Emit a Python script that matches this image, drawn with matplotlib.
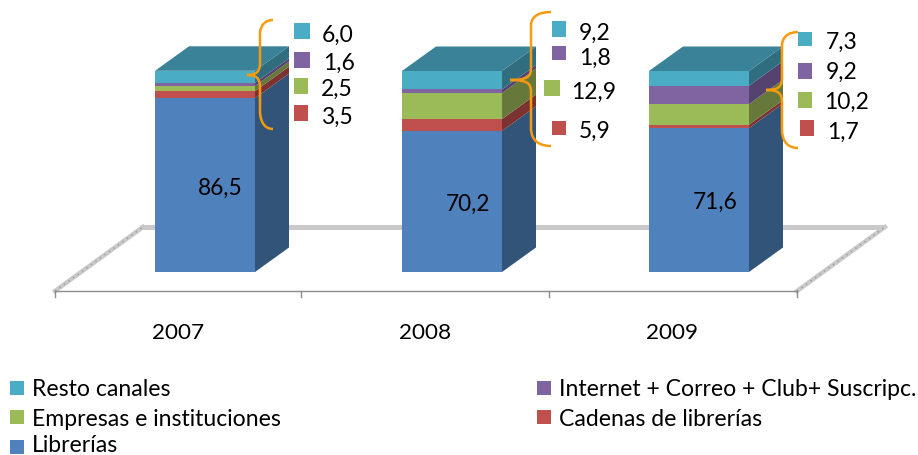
import matplotlib
matplotlib.use("Agg")
import matplotlib.pyplot as plt
from matplotlib.patches import Polygon, Rectangle, PathPatch
from matplotlib.path import Path
from matplotlib.transforms import Affine2D

plt.rcParams['font.family'] = ['Lato', 'DejaVu Sans']

years = ['2007', '2008', '2009']
series_names = ['Librerías', 'Cadenas de librerías', 'Empresas e instituciones',
                'Internet + Correo + Club+ Suscripc.', 'Resto canales']
librerias = [86.5, 70.2, 71.6]
cadenas = [3.5, 5.9, 1.7]
empresas = [2.5, 12.9, 10.2]
internet = [1.6, 1.8, 9.2]
resto = [6.0, 9.2, 7.3]
series = [librerias, cadenas, empresas, internet, resto]
front_colors = ['#4f81bd', '#c0504d', '#9bbb59', '#8064a2', '#4bacc6']
side_colors = ['#325479', '#7c3230', '#66793a', '#54426f', '#2f6d7f']
top_color = '#3a8297'

W, H = 918, 455
fig = plt.figure(figsize=(W / 100, H / 100), dpi=100)
ax = fig.add_axes([0, 0, 1, 1])
ax.axis('off')
UX, UY = 247.0, 2.01
ax.set_xlim(-205 / UX, (W - 205) / UX)
ax.set_ylim(-(H - 272) / UY, 272 / UY)
px = Affine2D().scale(1, -1).translate(0, H)

def fmt(v):
    return f'{v:.1f}'.replace('.', ',')

# floor
grey = '#c9c9c9'
ax.plot([140, 885], [227, 227], color=grey, lw=3.6, transform=px, solid_capstyle='butt', zorder=1)
for x0 in (55, 797):
    ax.plot([x0, x0 + 88], [291, 227], color=grey, lw=3.2, transform=px, zorder=1)
    ax.plot([x0, x0 + 88], [291, 227], color='#9a9a9a', lw=1, ls=(0, (1, 3)), transform=px, zorder=1)
ax.plot([55, 797], [291, 291], color='#8c8c8c', lw=1, transform=px, zorder=2)
for x0 in (55, 301, 549, 797):
    ax.plot([x0, x0], [291, 297], color='#8c8c8c', lw=1, transform=px, zorder=2)

# bars
bw = 100 / UX
dx, dy = 34 / UX, 24.5 / UY
for i in range(len(years)):
    base = 0.0
    xl, xr = i - bw / 2, i + bw / 2
    for s, vals in enumerate(series):
        v = vals[i]
        ax.bar(i, v, width=bw, bottom=base, color=front_colors[s], linewidth=0, zorder=3)
        ax.add_patch(Polygon([(xr, base), (xr + dx, base + dy), (xr + dx, base + v + dy), (xr, base + v)],
                             closed=True, fc=side_colors[s], ec='none', zorder=3))
        base += v
    ax.add_patch(Polygon([(xl, base), (xl + dx, base + dy), (xr + dx, base + dy), (xr, base)],
                         closed=True, fc=top_color, ec='none', zorder=3))

# value labels on the main segment
lib_pos = [(220, 188), (468, 204), (715, 202)]
for v, (x, y) in zip(librerias, lib_pos):
    ax.text(x, y, fmt(v), transform=px, ha='center', va='center', fontsize=16.3, color='black', zorder=6)

# year labels
for t, x in zip(years, (178, 425, 672)):
    ax.text(x, 333, t, transform=px, ha='center', va='center', fontsize=16.2, color='black')

# braces
def brace(xe, xs, xt, y0, ym, y1):
    r = 12
    verts = [(xe, y0), (xs + 2, y0), (xs, y0 + r), (xs, y0 + r + 6),
             (xs, ym - 12), (xs, ym - 12), (xs, ym - 12),
             (xs, ym - 3), (xs - 4, ym), (xt, ym),
             (xs - 4, ym), (xs, ym + 3), (xs, ym + 12),
             (xs, ym + 12), (xs, ym + 12), (xs, y1 - r - 6),
             (xs, y1 - r), (xs + 2, y1), (xe, y1)]
    codes = [Path.MOVETO, Path.CURVE3, Path.CURVE3, Path.LINETO, Path.LINETO, Path.LINETO, Path.LINETO,
             Path.CURVE4, Path.CURVE4, Path.CURVE4, Path.CURVE4, Path.CURVE4, Path.CURVE4,
             Path.LINETO, Path.LINETO, Path.LINETO, Path.CURVE4, Path.CURVE4, Path.CURVE4]
    ax.add_patch(PathPatch(Path(verts, codes), fc='none', ec='#f79a0e', lw=1.8, transform=px, zorder=5))

brace(273, 260, 247, 20, 75, 129)
brace(551, 531, 510, 12, 80, 146)
brace(798, 782, 766, 32, 90, 148)

# side keys: (square x, y, w, h, label centre x, y) from the top series down
key_layout = [
    [(294, 23, 16, 16, 338, 35), (294, 52, 16, 16, 339, 63), (294, 78, 14, 16, 337, 89), (294, 105, 14, 16, 337, 117)],
    [(552, 21, 14, 16, 595, 33), (552, 46, 14, 14, 595, 58), (544, 80, 16, 16, 594, 92), (552, 121, 14, 14, 595, 131)],
    [(798, 32, 14, 14, 842, 42), (798, 63, 14, 16, 842, 72), (798, 92, 14, 16, 847, 102), (800, 120, 14, 16, 843, 132)],
]
for i in range(len(years)):
    for k, s in enumerate((4, 3, 2, 1)):
        x, y, w, h, tx, ty = key_layout[i][k]
        ax.add_patch(Rectangle((x, y), w, h, fc=front_colors[s], ec='none', transform=px, zorder=6))
        ax.text(tx, ty, fmt(series[s][i]), transform=px, ha='center', va='center', fontsize=16.5, zorder=6)

# legend
legend_layout = {4: (10, 381, 32, 390), 3: (537, 381, 559, 390), 2: (10, 410, 32, 419),
                 1: (537, 410, 559, 419), 0: (10, 440, 32, 445)}
for s, (x, y, tx, ty) in legend_layout.items():
    ax.add_patch(Rectangle((x, y), 14, 14, fc=front_colors[s], ec='none', transform=px))
    ax.text(tx, ty, series_names[s], transform=px, ha='left', va='center', fontsize=16.6)

fig.savefig('out.png', dpi=100)
